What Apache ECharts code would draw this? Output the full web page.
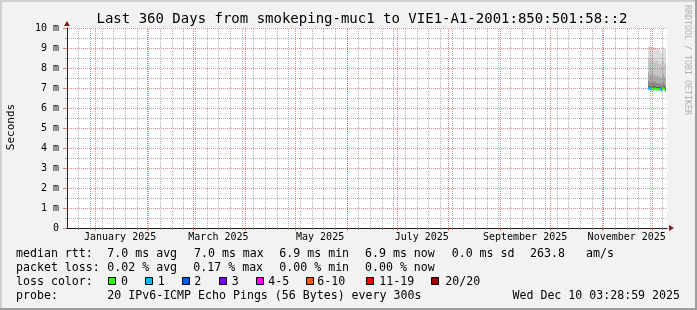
<!DOCTYPE html>
<html>
<head>
<meta charset="utf-8">
<script src="https://cdn.jsdelivr.net/npm/echarts@6/dist/echarts.min.js"></script>
<style>
html,body{margin:0;padding:0;background:#f2f2f2;}
#chart{width:697px;height:310px;}
</style>
</head>
<body>
<div id="chart"></div>
<script>
const DAY = 86400000;
const endTime = Date.UTC(2025, 11, 10, 3, 28, 59);
const startTime = endTime - 360 * DAY;
const colStep = 0.6 * DAY;
const firstColumn = 581;

const monthLabels = ['January 2025', 'March 2025', 'May 2025', 'July 2025', 'September 2025', 'November 2025'];
const monthLabelDates = [Date.UTC(2025,0,16), Date.UTC(2025,2,16), Date.UTC(2025,4,16), Date.UTC(2025,6,16), Date.UTC(2025,8,16), Date.UTC(2025,10,16)];
const yTickLabels = ['0', '1 m', '2 m', '3 m', '4 m', '5 m', '6 m', '7 m', '8 m', '9 m', '10 m'];

const medianRtt = [7.0, 7.0, 6.95, 6.95, 7.0, 6.95, 6.95, 7.0, 6.95, 6.95, 6.95, 6.95, 6.95, 6.9, 6.95, 7.0, 6.95, 6.9];
const lossCount = [1, 1, 1, 0, 0, 0, 0, 0, 0, 0, 0, 1, 1, 1, 0, 0, 0, 1];
const pingMin = [6.82, 6.85, 6.8, 6.82, 6.85, 6.8, 6.82, 6.85, 6.8, 6.82, 6.8, 6.82, 6.8, 6.78, 6.8, 6.85, 6.8, 6.78];
const ping10 = [6.9, 6.9, 6.86, 6.87, 6.9, 6.86, 6.87, 6.9, 6.86, 6.87, 6.86, 6.87, 6.86, 6.82, 6.86, 6.9, 6.86, 6.82];
const ping20 = [6.93, 6.93, 6.89, 6.9, 6.93, 6.89, 6.9, 6.93, 6.89, 6.9, 6.89, 6.9, 6.89, 6.85, 6.89, 6.93, 6.89, 6.85];
const ping30 = [6.96, 6.96, 6.92, 6.92, 6.96, 6.92, 6.92, 6.96, 6.92, 6.92, 6.92, 6.92, 6.92, 6.87, 6.92, 6.96, 6.92, 6.87];
const ping40 = [6.98, 6.98, 6.94, 6.94, 6.98, 6.94, 6.94, 6.98, 6.94, 6.94, 6.94, 6.94, 6.94, 6.89, 6.94, 6.98, 6.94, 6.89];
const ping60 = [7.1, 7.1, 7.05, 7.05, 7.1, 7.05, 7.1, 7.1, 7.05, 7.05, 7.05, 7.05, 7.05, 7.0, 7.05, 7.1, 7.05, 7.0];
const ping70 = [7.35, 7.3, 7.25, 7.3, 7.35, 7.25, 7.3, 7.3, 7.25, 7.25, 7.2, 7.25, 7.2, 7.15, 7.25, 7.3, 7.2, 7.15];
const ping80 = [7.8, 7.7, 7.6, 7.75, 7.8, 7.6, 7.7, 7.65, 7.6, 7.65, 7.55, 7.6, 7.5, 7.45, 7.6, 7.7, 7.55, 7.5];
const ping90 = [8.5, 8.4, 8.3, 8.45, 8.5, 8.3, 8.4, 8.3, 8.35, 8.4, 8.2, 8.3, 8.2, 8.1, 8.3, 8.4, 8.2, 8.15];
const pingMax = [9.1, 9.1, 9.05, 9.05, 9.05, 9.05, 9.0, 9.0, 9.0, 9.0, 8.95, 8.95, 8.85, 8.75, 8.9, 8.95, 8.95, 8.9];

const lossLabels = ['0', '1', '2', '3', '4-5', '6-10', '11-19', '20/20'];
const lossColors = ['#26ff00', '#00b8ff', '#0059ff', '#7e00ff', '#ff00ff', '#ff5500', '#ff0000', '#a10000'];
const smokeColors = ['#dddddd', '#c6c6c6', '#aaaaaa', '#8a8a8a', '#5c5c5c'];

const monthStarts = [];
for (let m = 0; m < 12; m++) monthStarts.push(Date.UTC(2025, m, 1));
const weekStarts = [];
for (let t = Date.UTC(2024, 11, 22); t < endTime; t += 7 * DAY) weekStarts.push(t);

const times = medianRtt.map((_, i) => startTime + (firstColumn + i) * colStep);
const smokeData = times.map((t, i) => [t, pingMin[i], pingMax[i], ping10[i], ping90[i], ping20[i], ping80[i], ping30[i], ping70[i], ping40[i], ping60[i]]);
const medianData = times.map((t, i) => [t, medianRtt[i], lossCount[i]]);
const weekGridData = weekStarts.map(t => [t, 0]);
const monthGridData = monthStarts.map(t => [t, 0]);

const MONO = '"DejaVu Sans Mono", monospace';
const GRID_C = 'rgba(143,143,143,0.7)';
const MGRID_C = 'rgba(230,70,70,0.65)';

function lossColor(n) {
  if (n <= 3) return lossColors[n];
  if (n <= 5) return lossColors[4];
  if (n <= 10) return lossColors[5];
  if (n <= 19) return lossColors[6];
  return lossColors[7];
}

const chart = echarts.init(document.getElementById('chart'), null, {renderer: 'canvas'});

function txt(x, y, text, size, extra) {
  return Object.assign({
    type: 'text', x: x, y: y, z: 10,
    style: {text: text, font: size + 'px ' + MONO, fill: '#000', verticalAlign: 'middle', align: 'left'}
  }, extra || {});
}

const graphics = [
  {type: 'rect', shape: {x: 0, y: 0, width: 697, height: 2}, style: {fill: '#cfcfcf'}, z: 1},
  {type: 'rect', shape: {x: 0, y: 0, width: 2, height: 310}, style: {fill: '#cfcfcf'}, z: 1},
  {type: 'rect', shape: {x: 0, y: 308, width: 697, height: 2}, style: {fill: '#9e9e9e'}, z: 1},
  {type: 'rect', shape: {x: 695, y: 0, width: 2, height: 310}, style: {fill: '#9e9e9e'}, z: 1},
  txt(96.5, 19, 'Last 360 Days from smokeping-muc1 to VIE1-A1-2001:850:501:58::2', 14),
  txt(11, 127, 'Seconds', 11, {rotation: Math.PI / 2, style: {text: 'Seconds', font: '11px ' + MONO, fill: '#000', align: 'center', verticalAlign: 'middle'}}),
  txt(687, 5, 'RRDTOOL / TOBI OETIKER', 8.3, {rotation: -Math.PI / 2, style: {text: 'RRDTOOL / TOBI OETIKER', font: '8.3px ' + MONO, fill: '#b0b0b0', align: 'left', verticalAlign: 'middle'}}),
  txt(16, 254, 'median rtt:', 11.6),
  txt(107.3, 254, '7.0 ms avg', 11.6),
  txt(194, 254, '7.0 ms max', 11.6),
  txt(279.3, 254, '6.9 ms min', 11.6),
  txt(365, 254, '6.9 ms now', 11.6),
  txt(451.7, 254, '0.0 ms sd', 11.6),
  txt(530, 254, '263.8', 11.6),
  txt(586, 254, 'am/s', 11.6),
  txt(16, 268.3, 'packet loss:', 11.6),
  txt(107.3, 268.3, '0.02 % avg', 11.6),
  txt(193.3, 268.3, '0.17 % max', 11.6),
  txt(279.3, 268.3, '0.00 % min', 11.6),
  txt(365, 268.3, '0.00 % now', 11.6),
  txt(16, 281.7, 'loss color:', 11.6),
  txt(16, 296, 'probe:', 11.6),
  txt(107.3, 296, '20 IPv6-ICMP Echo Pings (56 Bytes) every 300s', 11.6),
  txt(680, 296, 'Wed Dec 10 03:28:59 2025', 11.6, {style: {text: 'Wed Dec 10 03:28:59 2025', font: '11.6px ' + MONO, fill: '#000', align: 'right', verticalAlign: 'middle'}})
];
const boxX = [108, 145, 182, 219, 256, 306, 366, 431];
const boxLabelX = [121, 157.7, 194.3, 231.7, 268.3, 317.3, 379.3, 445.3];
lossLabels.forEach((lab, i) => {
  graphics.push({type: 'rect', z: 10, shape: {x: boxX[i] + 0.5, y: 277.5, width: 7, height: 7}, style: {fill: lossColors[i], stroke: '#000', lineWidth: 1}});
  graphics.push(txt(boxLabelX[i], 281.7, lab, 11.6));
});

function vLine(color, dash) {
  return function (params, api) {
    const b = api.coord([api.value(0), 0]);
    const t = api.coord([api.value(0), 10]);
    const x = Math.round(b[0]) + 0.5;
    return {type: 'line', shape: {x1: x, y1: b[1], x2: x, y2: t[1]},
      style: {stroke: color, lineWidth: 1, lineDash: dash}};
  };
}

const option = {
  backgroundColor: '#f2f2f2',
  animation: false,
  grid: {left: 67, right: 30, top: 28, bottom: 82, show: true, backgroundColor: '#ffffff', borderWidth: 0, z: -10},
  xAxis: [
    {
      type: 'value', min: startTime, max: endTime,
      axisLine: {show: true, lineStyle: {color: '#1f1f1f', width: 1}},
      axisTick: {show: true, customValues: monthStarts, length: 3, lineStyle: {color: MGRID_C}},
      axisLabel: {
        show: true, customValues: monthLabelDates, margin: 4,
        fontFamily: MONO, fontSize: 10, color: '#000',
        formatter: function (v) { const i = monthLabelDates.indexOf(v); return i >= 0 ? monthLabels[i] : ''; }
      },
      splitLine: {show: false}
    },
    {
      type: 'value', min: startTime, max: endTime, position: 'bottom',
      axisLine: {show: true, symbol: ['none', 'triangle'], symbolSize: [6, 5], symbolOffset: [0, 4.5], lineStyle: {color: '#801f1f', opacity: 0}},
      axisTick: {show: true, customValues: weekStarts, length: 2, lineStyle: {color: GRID_C}},
      axisLabel: {show: false},
      splitLine: {show: false}
    }
  ],
  yAxis: [
    {
      type: 'value', min: 0, max: 10, interval: 1,
      axisLine: {show: true, lineStyle: {color: '#1f1f1f', width: 1}},
      axisTick: {show: true, length: 4, lineStyle: {color: MGRID_C}},
      minorTick: {show: true, splitNumber: 2, length: 2, lineStyle: {color: GRID_C}},
      axisLabel: {margin: 8, fontFamily: MONO, fontSize: 10, color: '#000', formatter: function (v) { return yTickLabels[Math.round(v)]; }},
      splitLine: {show: true, lineStyle: {color: MGRID_C, type: [1, 1], width: 1}},
      minorSplitLine: {show: true, lineStyle: {color: GRID_C, type: [1, 1], width: 1}}
    },
    {
      type: 'value', min: 0, max: 10, interval: 1, position: 'left',
      axisLine: {show: true, symbol: ['none', 'triangle'], symbolSize: [6, 5], symbolOffset: [0, 4.5], lineStyle: {color: '#801f1f', opacity: 0}},
      axisTick: {show: false}, axisLabel: {show: false}, splitLine: {show: false}
    }
  ],
  series: [
    {
      type: 'custom', name: 'smoke', z: -5, xAxisIndex: 0, yAxisIndex: 0,
      data: smokeData, encode: {x: 0, y: [1, 2]},
      renderItem: function (params, api) {
        const t = api.value(0);
        const children = [];
        for (let b = 0; b < 5; b++) {
          const lo = api.coord([t, api.value(1 + 2 * b)]);
          const hi = api.coord([t + colStep, api.value(2 + 2 * b)]);
          children.push({type: 'rect', shape: {x: lo[0], y: hi[1], width: hi[0] - lo[0], height: lo[1] - hi[1]}, style: {fill: smokeColors[b]}});
        }
        return {type: 'group', children: children};
      },
      silent: true
    },
    {
      type: 'custom', name: 'weekGrid', z: 1, xAxisIndex: 0, yAxisIndex: 0,
      data: weekGridData, encode: {x: 0, y: 1}, renderItem: vLine(GRID_C, [1, 1]), silent: true
    },
    {
      type: 'custom', name: 'monthGrid', z: 2, xAxisIndex: 0, yAxisIndex: 0,
      data: monthGridData, encode: {x: 0, y: 1}, renderItem: vLine(MGRID_C, [1, 1]), silent: true
    },
    {
      type: 'custom', name: 'median', z: 5, xAxisIndex: 0, yAxisIndex: 0,
      data: medianData, encode: {x: 0, y: 1},
      renderItem: function (params, api) {
        const p0 = api.coord([api.value(0), api.value(1)]);
        const p1 = api.coord([api.value(0) + colStep, api.value(1)]);
        return {type: 'rect', shape: {x: p0[0], y: p0[1] - 1, width: p1[0] - p0[0], height: 2}, style: {fill: lossColor(api.value(2))}};
      },
      silent: true
    }
  ],
  graphic: graphics
};
chart.setOption(option);
</script>
</body>
</html>
